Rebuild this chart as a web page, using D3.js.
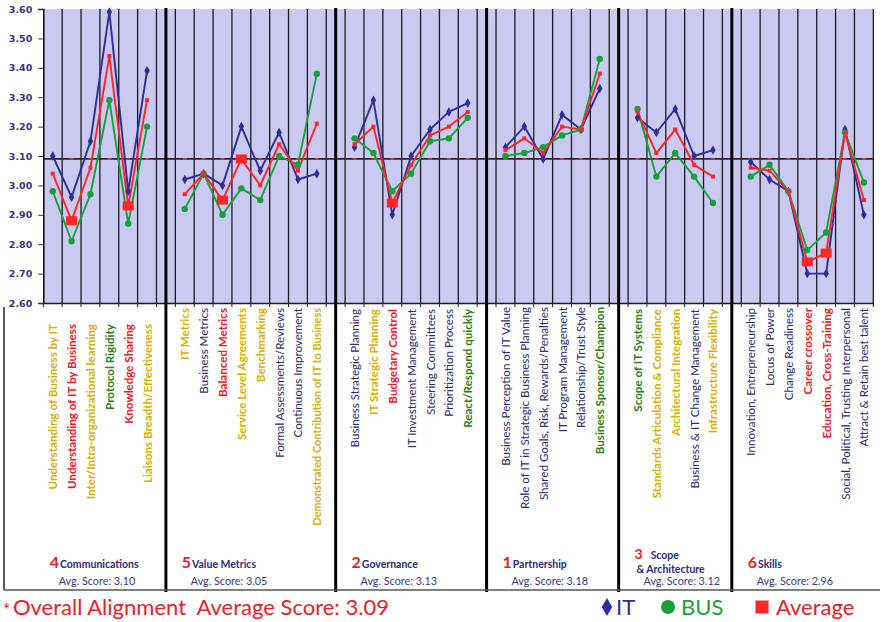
<!DOCTYPE html>
<html><head><meta charset="utf-8">
<script src="https://cdn.jsdelivr.net/npm/d3@7"></script>
<style>html,body{margin:0;padding:0;background:#fff}</style>
</head><body><svg id="chart" width="885" height="622"></svg>
<script>
// Alignment maturity survey: six areas, one score per practice for IT, business and their average
const groupRanks = ["4", "5", "2", "1", "3", "6"];
const groupNames = ["Communications", "Value Metrics", "Governance", "Partnership", "Scope\n& Architecture", "Skills"];
const groupAvgScores = ["3.10", "3.05", "3.13", "3.18", "3.12", "2.96"];

const itemLabels = [
  ["Understanding of Business by IT", "Understanding of IT by Business", "Inter/Intra-organizational learning", "Protocol Rigidity", "Knowledge Sharing", "Liaisons Breadth/Effectiveness"],
  ["IT Metrics", "Business Metrics", "Balanced Metrics", "Service Level Agreements", "Benchmarking", "Formal Assessments/Reviews", "Continuous Improvement", "Demonstrated Contribution of IT to Business"],
  ["Business Strategic Planning", "IT Strategic Planning", "Budgetary Control", "IT Investment Management", "Steering Committees", "Prioritization Process", "React/Respond quickly"],
  ["Business Perception of IT Value", "Role of IT in Strategic Business Planning", "Shared Goals, Risk, Rewards/Penalties", "IT Program Management", "Relationship/Trust Style", "Business Sponsor/Champion"],
  ["Scope of IT Systems", "Standards Articulation & Compliance", "Architectural Integration", "Business & IT Change Management", "Infrastructure Flexibility"],
  ["Innovation, Entrepreneurship", "Locus of Power", "Change Readiness", "Career crossover", "Education, Cross-Training", "Social, Political, Trusting Interpersonal", "Attract & Retain best talent"]
];

const itScores = [
  [3.10, 2.96, 3.15, 3.59, 2.98, 3.39],
  [3.02, 3.04, 3.00, 3.20, 3.05, 3.18, 3.02, 3.04],
  [3.13, 3.29, 2.90, 3.10, 3.19, 3.25, 3.28],
  [3.13, 3.20, 3.09, 3.24, 3.19, 3.33],
  [3.23, 3.18, 3.26, 3.10, 3.12],
  [3.08, 3.02, 2.98, 2.70, 2.70, 3.19, 2.90]
];
const busScores = [
  [2.98, 2.81, 2.97, 3.29, 2.87, 3.20],
  [2.92, 3.04, 2.90, 2.99, 2.95, 3.10, 3.07, 3.38],
  [3.16, 3.11, 2.98, 3.04, 3.15, 3.16, 3.23],
  [3.10, 3.11, 3.13, 3.17, 3.19, 3.43],
  [3.26, 3.03, 3.11, 3.03, 2.94],
  [3.03, 3.07, 2.98, 2.78, 2.84, 3.18, 3.01]
];
const avgScores = [
  [3.04, 2.88, 3.06, 3.44, 2.93, 3.29],
  [2.97, 3.04, 2.95, 3.09, 3.00, 3.14, 3.05, 3.21],
  [3.14, 3.20, 2.94, 3.07, 3.17, 3.20, 3.25],
  [3.12, 3.16, 3.11, 3.20, 3.19, 3.38],
  [3.25, 3.11, 3.19, 3.07, 3.03],
  [3.06, 3.05, 2.98, 2.74, 2.77, 3.18, 2.95]
];
const overallScore = 3.09;
const yTicks = [2.6, 2.7, 2.8, 2.9, 3.0, 3.1, 3.2, 3.3, 3.4, 3.5, 3.6];

// label styling per practice
const labelTone = [
  ["gold", "red", "gold", "green", "red", "gold"],
  ["gold", "navy", "red", "gold", "gold", "navy", "navy", "gold"],
  ["navy", "gold", "red", "navy", "navy", "navy", "green"],
  ["navy", "navy", "navy", "navy", "navy", "green"],
  ["green", "gold", "gold", "navy", "gold"],
  ["navy", "navy", "navy", "red", "red", "navy", "navy"]
];
// practices whose average marker is emphasised
const flagged = [[1, 4], [2, 3], [2], [], [], [3, 4]];

const toneColor = {gold: "#d8b000", red: "#e8202a", green: "#2c7d22", navy: "#2c2c6c"};
const C = {it: "#2e2e96", bus: "#17a03a", avg: "#ff2626", grid: "#1c1c1c", bg: "#c9c9f2", axisText: "#35357a"};

const W = 885, H = 622;
const plot = {left: 43.3, right: 873.3, top: 9, bottom: 303};
const labelTop = 306;
const groupLabelPad = [18, 2, 3, 1, 3, 2];

// lay practices onto slots, one empty slot between areas
const slots = [];
const groupInfo = [];
let s = 0;
itemLabels.forEach((items, g) => {
  const start = s;
  items.forEach((lab, i) => {
    slots.push({g, i, slot: s, label: lab,
      it: itScores[g][i], bus: busScores[g][i], avg: avgScores[g][i],
      tone: labelTone[g][i], flag: flagged[g].includes(i)});
    s++;
  });
  groupInfo.push({g, start, end: s - 1});
  if (g < itemLabels.length - 1) { groupInfo[g].gap = s; s++; }
});
const nSlots = s;

const x = d3.scaleBand().domain(d3.range(nSlots)).range([plot.left, plot.right]).padding(0);
const cx = i => x(i) + x.bandwidth() / 2;
const y = d3.scaleLinear().domain([2.6, 3.6]).range([plot.bottom, plot.top]);

const svg = d3.select("#chart");
svg.append("rect").attr("width", W).attr("height", H).attr("fill", "#fff");

// plot background
svg.append("rect")
  .attr("x", plot.left).attr("y", y(3.6))
  .attr("width", plot.right - plot.left).attr("height", y(2.6) - y(3.6))
  .attr("fill", C.bg);

// vertical gridlines at slot boundaries
svg.append("g").selectAll("line").data(d3.range(1, nSlots + 1)).join("line")
  .attr("x1", d => x(d - 1) + x.bandwidth()).attr("x2", d => x(d - 1) + x.bandwidth())
  .attr("y1", y(3.6)).attr("y2", y(2.6))
  .attr("stroke", C.grid).attr("stroke-width", 1.3);

// bottom axis with category ticks
const xAxis = d3.axisBottom(x).tickValues([]).tickSizeOuter(0);
const gx = svg.append("g").attr("transform", `translate(0,${plot.bottom})`).call(xAxis);
gx.select(".domain").attr("stroke", C.grid).attr("stroke-width", 1.4);
gx.selectAll(null).data(d3.range(0, nSlots + 1)).join("line")
  .attr("x1", d => plot.left + d * x.bandwidth()).attr("x2", d => plot.left + d * x.bandwidth())
  .attr("y1", 0).attr("y2", 4).attr("stroke", C.grid).attr("stroke-width", 1);

// y axis
const gy = svg.append("g").attr("transform", `translate(${plot.left},0)`)
  .call(d3.axisLeft(y).tickValues(yTicks).tickFormat(d3.format(".2f")).tickSize(5).tickPadding(6));
gy.select(".domain").attr("stroke", "#111").attr("stroke-width", 1.6);
gy.selectAll(".tick line").attr("stroke", "#333");
gy.selectAll(".tick text").attr("fill", C.axisText)
  .style("font-family", "'DejaVu Sans', sans-serif").style("font-weight", "bold").style("font-size", "9.5px");

// overall alignment reference line
svg.append("line")
  .attr("x1", plot.left).attr("x2", plot.right)
  .attr("y1", y(overallScore)).attr("y2", y(overallScore))
  .attr("stroke", "#3a1e1e").attr("stroke-width", 1.8);
svg.append("g").selectAll("rect").data(d3.range(nSlots)).join("rect")
  .attr("x", d => cx(d) - 2).attr("y", y(overallScore) - 0.8)
  .attr("width", 4).attr("height", 1.6).attr("fill", "#c04040");

// series lines, one segment per area
const series = [
  {key: "it", color: C.it},
  {key: "bus", color: C.bus},
  {key: "avg", color: C.avg}
];
const lineGen = key => d3.line().x(d => cx(d.slot)).y(d => y(d[key]));
const gLines = svg.append("g");
series.forEach(sr => {
  groupInfo.forEach(gi => {
    const pts = slots.filter(d => d.g === gi.g);
    gLines.append("path").datum(pts)
      .attr("d", lineGen(sr.key))
      .attr("fill", "none").attr("stroke", sr.color).attr("stroke-width", 1.9)
      .attr("stroke-linejoin", "round");
  });
});

// markers
const gm = svg.append("g");
gm.selectAll(".it").data(slots).join("path").attr("class", "it")
  .attr("d", d3.symbol(d3.symbolDiamond, 26))
  .attr("transform", d => `translate(${cx(d.slot)},${y(d.it)})`).attr("fill", C.it);
gm.selectAll(".bus").data(slots).join("circle").attr("class", "bus")
  .attr("cx", d => cx(d.slot)).attr("cy", d => y(d.bus)).attr("r", 3.2).attr("fill", C.bus);
gm.selectAll(".avg").data(slots).join("rect").attr("class", "avg")
  .attr("x", d => cx(d.slot) - (d.flag ? 5.5 : 2))
  .attr("y", d => y(d.avg) - (d.flag ? 4.5 : 2))
  .attr("width", d => d.flag ? 11 : 4).attr("height", d => d.flag ? 9 : 4)
  .attr("fill", C.avg);

// rotated practice labels
const gLab = svg.append("g");
const labelSize = 11.6, maxLen = 218;
slots.forEach(d => {
  const bold = d.tone !== "navy";
  const t = gLab.append("text")
    .attr("transform", `translate(${cx(d.slot)},${labelTop + groupLabelPad[d.g]}) rotate(-90)`)
    .attr("text-anchor", "end").attr("dominant-baseline", "central")
    .attr("fill", toneColor[d.tone])
    .style("font-family", "Lato, 'Open Sans', sans-serif")
    .style("font-weight", bold ? "bold" : "normal")
    .style("font-size", labelSize + "px")
    .text(d.label);
  const len = t.node().getComputedTextLength();
  if (len > maxLen) t.style("font-size", (labelSize * maxLen / len).toFixed(2) + "px");
});

// area separators
const sepBottom = 592;
svg.append("g").selectAll("line").data(groupInfo.filter(d => d.gap !== undefined)).join("line")
  .attr("x1", d => cx(d.gap)).attr("x2", d => cx(d.gap))
  .attr("y1", y(3.6) - 1).attr("y2", sepBottom)
  .attr("stroke", "#000").attr("stroke-width", 3);

// label panel frame
svg.append("line").attr("x1", 4).attr("x2", 4).attr("y1", 307).attr("y2", 590)
  .attr("stroke", "#222").attr("stroke-width", 1.5);
svg.append("line").attr("x1", 4).attr("x2", 880).attr("y1", 590).attr("y2", 590)
  .attr("stroke", "#555").attr("stroke-width", 1.3);

// area footers
const gf = svg.append("g").style("font-family", "Lato, 'Open Sans', sans-serif");
groupInfo.forEach(gi => {
  const x0 = cx(gi.start) - 3;
  const lines = groupNames[gi.g].split("\n");
  const twoLine = lines.length > 1;
  const base = twoLine ? 559 : 568;
  const rank = gf.append("text").attr("x", x0).attr("y", base)
    .attr("fill", "#e8202a").style("font-weight", "bold").style("font-size", twoLine ? "14px" : "16px")
    .text(groupRanks[gi.g]);
  const rw = rank.node().getComputedTextLength();
  gf.append("text").attr("x", x0 + rw + (twoLine ? 8 : 1)).attr("y", base)
    .attr("fill", "#2c2c78").style("font-weight", "bold").style("font-size", "10.5px")
    .text(lines[0]);
  if (twoLine) {
    gf.append("text").attr("x", x0 + 2).attr("y", base + 14)
      .attr("fill", "#2c2c78").style("font-weight", "bold").style("font-size", "10.5px")
      .text(lines[1]);
  }
  gf.append("text").attr("x", cx(gi.start) + 6).attr("y", 585)
    .attr("fill", "#3a3a7a").style("font-size", "10.8px")
    .text("Avg. Score: " + groupAvgScores[gi.g]);
});

// bottom legend
const gl = svg.append("g").style("font-family", "Lato, 'Open Sans', sans-serif");
gl.append("text").attr("x", 3).attr("y", 616).attr("fill", "#e8202a")
  .style("font-size", "17px").text("*");
gl.append("text").attr("x", 13).attr("y", 615).attr("fill", "#e8202a")
  .style("font-size", "22px").style("white-space", "pre")
  .text("Overall Alignment  Average Score: " + d3.format(".2f")(overallScore));

const legendItems = [
  {label: "IT", color: C.it, textColor: "#2e2e8a", mark: "diamond", mx: 607, tx: 616},
  {label: "BUS", color: C.bus, textColor: "#17a03a", mark: "circle", mx: 668, tx: 681},
  {label: "Average", color: C.avg, textColor: "#e8202a", mark: "square", mx: 762, tx: 776}
];
legendItems.forEach(li => {
  if (li.mark === "diamond") {
    gl.append("path").attr("d", d3.symbol(d3.symbolDiamond, 95)).attr("transform", `translate(${li.mx},607)`).attr("fill", li.color);
  } else if (li.mark === "circle") {
    gl.append("circle").attr("cx", li.mx).attr("cy", 607).attr("r", 7).attr("fill", li.color);
  } else {
    gl.append("rect").attr("x", li.mx - 6.5).attr("y", 600.5).attr("width", 13).attr("height", 13).attr("fill", li.color);
  }
  gl.append("text").attr("x", li.tx).attr("y", 615).attr("fill", li.textColor)
    .style("font-size", "22px").text(li.label);
});
</script>
</body></html>
